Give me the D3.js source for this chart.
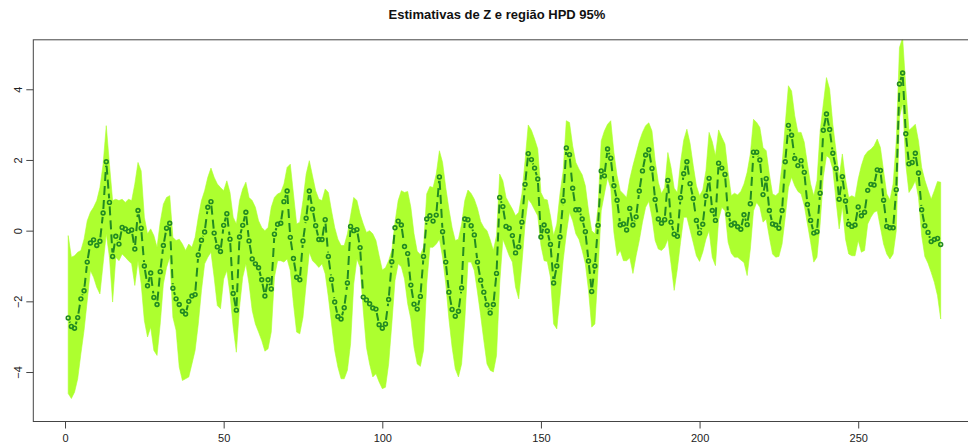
<!DOCTYPE html>
<html>
<head>
<meta charset="utf-8">
<script src="https://cdn.jsdelivr.net/npm/d3@7"></script>
<style>
  body { margin: 0; background: #fff; }
  svg { display: block; font-family: "Liberation Sans", Arial, sans-serif; }
</style>
</head>
<body>
<div id="chart"></div>
<script>
// Posterior estimates of Z (t = 1..276)
const zEst = [
  -2.47,-2.71,-2.76,-2.46,-1.93,-1.70,-0.89,-0.35,-0.26,-0.42,
  -0.30,0.50,1.95,0.80,-0.73,-0.16,-0.38,0.09,0.05,-0.02,
  0.02,-0.52,0.57,0.07,-1.00,-1.56,-1.20,-1.89,-2.09,-1.16,
  -0.42,0.07,0.21,-1.63,-1.93,-2.09,-2.28,-2.36,-2.00,-1.85,
  -1.81,-0.69,-0.27,-0.04,0.66,0.82,-0.07,-0.46,-0.59,0.15,
  0.48,-0.24,-1.78,-2.25,-0.18,0.15,0.52,-0.29,-0.80,-0.94,
  -1.05,-1.39,-1.85,-1.39,-1.65,-0.10,0.18,0.21,0.82,1.12,
  -0.19,-0.79,-1.32,-1.39,-0.29,0.35,1.12,0.61,0.14,-0.25,
  -0.25,0.31,-0.73,-1.38,-2.02,-2.43,-2.50,-2.18,-1.48,0.12,
  0.00,0.03,-0.48,-1.88,-1.96,-2.07,-2.19,-2.22,-2.66,-2.76,
  -2.64,-1.95,-0.88,0.08,0.27,0.16,-0.45,-0.65,-1.54,-2.08,
  -2.22,-1.86,-0.73,0.33,0.42,0.27,0.44,1.52,-0.03,-0.89,
  -1.74,-2.23,-2.42,-2.28,-1.62,0.33,0.31,0.14,-0.12,-0.89,
  -1.40,-1.74,-2.10,-2.33,-2.09,-1.21,0.94,0.68,0.12,0.07,
  -0.14,-0.63,-0.46,0.24,1.31,2.18,2.01,1.77,1.46,-0.18,
  0.16,-0.01,-0.39,-1.48,-1.00,-0.18,0.84,2.34,2.15,1.20,
  0.59,0.59,0.33,-0.03,-0.86,-1.72,-1.00,0.15,1.69,1.55,
  2.31,2.05,1.27,0.86,0.16,0.19,0.02,0.63,0.16,0.39,
  1.12,1.69,2.14,2.29,1.76,0.88,0.33,0.21,0.31,1.42,
  0.24,-0.10,-0.16,0.93,1.61,1.95,1.33,0.91,0.29,-0.07,
  0.18,0.98,1.48,0.57,0.29,1.91,1.77,1.59,0.46,0.16,
  0.21,0.11,0.04,0.45,0.17,0.76,2.22,2.22,2.00,1.02,
  1.47,0.57,0.19,0.16,0.07,0.57,1.95,2.98,2.70,2.04,
  1.84,1.98,1.65,0.74,0.29,-0.07,-0.03,1.06,2.84,3.30,
  2.86,2.19,1.76,0.89,1.53,0.84,0.18,0.12,0.16,0.67,
  0.42,0.52,1.14,1.31,1.29,1.72,1.70,0.86,0.12,0.08,
  0.08,1.16,4.15,4.46,2.74,1.89,1.93,2.19,1.63,0.59,
  0.14,-0.05,-0.31,-0.25,-0.22,-0.39
];

// Upper limit of the 95% HPD region
const hpdUpper = [
  -0.14,-0.75,-0.71,-0.61,-0.56,-0.24,0.28,0.52,0.66,0.85,
  1.22,1.88,2.97,1.88,0.85,0.89,0.85,0.89,0.80,0.89,
  0.85,1.32,1.93,1.69,0.38,-0.09,0.05,-0.14,-0.47,0.24,
  0.75,0.94,0.99,-0.19,-0.28,-0.24,-0.38,-0.56,-0.38,-0.47,
  -0.19,0.38,0.85,1.13,1.51,1.77,1.51,1.32,1.22,1.13,
  1.41,1.08,0.38,0.19,0.85,1.18,1.37,0.94,0.85,0.66,
  0.28,0.09,0.00,0.09,0.66,0.94,1.04,1.08,1.32,1.79,
  1.88,1.04,0.19,0.24,0.85,1.60,1.98,1.55,1.13,0.89,
  0.85,1.18,1.08,0.56,0.09,-0.24,-0.42,-0.42,-0.09,0.42,
  0.94,0.85,0.47,0.19,-0.05,0.00,-0.09,-0.28,-0.71,-1.11,
  -1.05,-0.85,-0.56,0.24,0.85,1.13,1.08,1.11,0.66,-0.09,
  -0.58,-0.68,-0.47,1.04,1.25,1.22,1.60,2.26,1.93,1.22,
  0.61,0.09,-0.28,-0.24,0.19,0.85,1.15,1.05,0.89,0.63,
  0.26,0.09,0.00,-0.26,-0.56,-0.14,1.60,1.41,0.94,0.77,
  0.61,0.42,0.52,1.04,1.98,2.99,2.84,2.59,2.31,1.08,
  0.89,0.87,0.42,-0.14,0.19,1.04,1.69,3.11,3.06,2.40,
  1.93,1.74,1.58,1.27,0.56,0.00,-0.09,0.66,2.54,2.82,
  3.01,3.11,2.21,1.55,1.13,1.04,0.94,1.46,1.84,2.18,
  2.52,2.78,2.97,3.05,2.82,1.98,1.37,1.05,1.22,2.21,
  1.79,1.20,1.08,1.93,2.56,2.87,2.47,1.84,1.27,0.99,
  1.15,1.69,2.78,2.52,2.12,2.85,2.64,2.45,1.65,0.99,
  1.06,1.01,1.11,1.32,1.65,2.17,3.15,3.06,2.92,2.35,
  2.26,1.60,1.04,0.99,1.08,1.88,3.01,4.10,3.95,3.25,
  2.78,2.78,2.50,1.88,1.32,0.99,1.41,2.82,3.58,4.33,
  4.00,3.01,2.26,1.51,2.17,1.46,0.94,0.99,0.94,1.46,
  1.84,2.12,2.24,2.30,2.40,2.59,2.35,1.69,1.04,0.87,
  1.32,2.54,5.18,5.46,4.05,2.84,2.92,3.01,2.54,1.79,
  1.43,1.15,0.89,1.13,1.39,1.37
];

// Lower limit of the 95% HPD region
const hpdLower = [
  -4.61,-4.75,-4.57,-4.19,-3.48,-2.82,-1.98,-1.13,-1.32,-1.60,
  -1.79,-0.94,-0.09,-0.75,-2.02,-0.75,-0.85,-0.66,-0.75,-0.85,
  -0.94,-1.55,-0.85,-1.51,-2.54,-3.01,-2.73,-3.39,-3.53,-2.64,
  -1.51,-1.04,-0.75,-2.45,-2.82,-3.86,-4.24,-4.19,-4.14,-3.77,
  -3.39,-2.64,-1.69,-0.94,-0.75,-0.61,-1.32,-2.12,-2.21,-1.37,
  -1.13,-1.79,-2.73,-3.44,-2.17,-1.32,-0.94,-1.51,-2.26,-2.64,
  -2.87,-3.11,-3.41,-3.34,-2.87,-1.32,-0.85,-0.85,-0.89,-0.80,
  -1.13,-2.07,-2.87,-2.92,-2.45,-1.51,-0.61,-0.85,-0.94,-1.04,
  -0.94,-1.22,-1.88,-2.64,-3.39,-3.86,-4.19,-4.19,-3.95,-3.20,
  -1.51,-0.80,-1.04,-2.26,-3.30,-3.77,-4.14,-4.05,-4.28,-4.47,
  -4.43,-3.77,-2.64,-1.41,-0.94,-1.02,-1.37,-2.07,-2.50,-3.30,
  -3.77,-3.84,-3.39,-1.51,-0.47,-0.47,-0.38,-0.24,-0.75,-1.51,
  -2.50,-3.30,-3.91,-4.14,-3.77,-2.54,-0.89,-0.89,-1.13,-1.74,
  -2.40,-3.11,-3.77,-3.95,-4.00,-3.53,-1.50,-0.24,-0.47,-0.71,
  -0.89,-1.60,-1.93,-0.94,0.19,0.89,0.77,0.59,0.42,-0.42,
  -0.85,-0.87,-1.32,-2.64,-2.78,-1.88,-0.85,-0.09,0.52,0.28,
  -0.09,-0.25,-0.56,-0.94,-1.69,-2.73,-2.64,-1.13,0.56,1.04,
  1.50,1.20,-0.05,-0.71,-0.56,-0.85,-0.85,-0.77,-1.21,-0.71,
  -0.28,0.24,0.66,0.83,0.38,-0.28,-0.52,-0.56,-0.47,-0.24,
  -0.94,-1.69,-1.08,-0.33,0.38,0.38,0.02,-0.34,-0.71,-0.87,
  -0.61,-0.24,0.00,-0.75,-0.99,0.30,0.66,0.56,-0.33,-0.64,
  -0.75,-0.75,-0.83,-0.90,-1.27,-0.52,0.56,0.80,0.66,0.24,
  0.33,-0.19,-0.66,-0.75,-0.73,-0.38,0.38,1.22,1.51,1.27,
  1.11,1.04,0.71,0.19,-0.33,-0.89,-0.75,0.19,1.51,2.12,
  2.05,1.74,0.85,0.05,0.70,-0.24,-0.66,-0.71,-0.71,-0.28,
  -0.61,-0.56,0.19,0.38,0.52,0.56,0.09,-0.38,-0.66,-0.80,
  -0.66,0.00,3.20,3.60,1.88,1.08,1.22,1.41,0.94,-0.14,
  -0.73,-0.92,-1.18,-1.46,-1.84,-2.50
];

const xTicks = [0, 50, 100, 150, 200, 250];
const yTicks = [-4, -2, 0, 2, 4];
const chartTitle = "Estimativas de Z e região HPD 95%";

const WIDTH = 968, HEIGHT = 448;
const BOX = { left: 33.3, top: 39.8, bottom: 421.5, right: 975.6 }; // right side runs off the picture
const BAND_COLOR = "#adff2f";
const LINE_COLOR = "#228b22";
const GAP = 4; // type="b": segments stop short of the points

const data = zEst.map((v, i) => ({ t: i + 1, z: v, lo: hpdLower[i], hi: hpdUpper[i] }));

const x = d3.scaleLinear().domain([-10, 287]).range([BOX.left, BOX.right]);
const y = d3.scaleLinear().domain([-5.4, 5.4]).range([BOX.bottom, BOX.top]);

const svg = d3.select("#chart").append("svg")
    .attr("width", WIDTH)
    .attr("height", HEIGHT);

svg.append("defs").append("clipPath")
    .attr("id", "plot-clip")
  .append("rect")
    .attr("x", BOX.left)
    .attr("y", BOX.top)
    .attr("width", BOX.right - BOX.left)
    .attr("height", BOX.bottom - BOX.top);

const plot = svg.append("g").attr("clip-path", "url(#plot-clip)");

// HPD band
const area = d3.area()
    .x(d => x(d.t))
    .y0(d => y(d.lo))
    .y1(d => y(d.hi));

plot.append("path")
    .datum(data)
    .attr("d", area)
    .attr("fill", BAND_COLOR)
    .attr("stroke", BAND_COLOR)
    .attr("stroke-width", 0.6);

// dashed line between points, with gaps round each point
const segs = [];
for (let i = 0; i < data.length - 1; i++) {
    const x1 = x(data[i].t), y1 = y(data[i].z);
    const x2 = x(data[i + 1].t), y2 = y(data[i + 1].z);
    const dx = x2 - x1, dy = y2 - y1;
    const len = Math.sqrt(dx * dx + dy * dy);
    if (len <= 2 * GAP) continue;
    const ux = dx / len, uy = dy / len;
    segs.push({ x1: x1 + ux * GAP, y1: y1 + uy * GAP, x2: x2 - ux * GAP, y2: y2 - uy * GAP });
}

plot.append("g")
    .selectAll("line")
    .data(segs)
    .join("line")
    .attr("x1", d => d.x1)
    .attr("y1", d => d.y1)
    .attr("x2", d => d.x2)
    .attr("y2", d => d.y2)
    .attr("stroke", LINE_COLOR)
    .attr("stroke-width", 2)
    .attr("stroke-dasharray", "9,5");

// hollow circle points
plot.append("g")
    .selectAll("circle")
    .data(data)
    .join("circle")
    .attr("cx", d => x(d.t))
    .attr("cy", d => y(d.z))
    .attr("r", 1.9)
    .attr("fill", "none")
    .attr("stroke", LINE_COLOR)
    .attr("stroke-width", 1.6);

// box
svg.append("rect")
    .attr("x", BOX.left)
    .attr("y", BOX.top)
    .attr("width", BOX.right - BOX.left)
    .attr("height", BOX.bottom - BOX.top)
    .attr("fill", "none")
    .attr("stroke", "#444")
    .attr("stroke-width", 1);

// axes
const xAxis = svg.append("g")
    .attr("transform", `translate(0,${BOX.bottom})`)
    .call(d3.axisBottom(x).tickValues(xTicks).tickSize(7).tickSizeOuter(0).tickPadding(6));
xAxis.select(".domain").remove();
xAxis.selectAll("line").attr("stroke", "#444");
xAxis.selectAll("text").attr("font-size", 11).attr("fill", "#222")
    .attr("font-family", "'Liberation Sans', Arial, sans-serif");

const yAxis = svg.append("g")
    .attr("transform", `translate(${BOX.left},0)`)
    .call(d3.axisLeft(y).tickValues(yTicks).tickSize(7).tickSizeOuter(0));
yAxis.select(".domain").remove();
yAxis.selectAll("line").attr("stroke", "#444");
yAxis.selectAll("text")
    .attr("font-size", 11)
    .attr("fill", "#222")
    .attr("font-family", "'Liberation Sans', Arial, sans-serif")
    .attr("text-anchor", "middle")
    .attr("x", null)
    .attr("dy", null)
    .attr("transform", "translate(-11,0) rotate(-90)");

// title
svg.append("text")
    .attr("x", 497)
    .attr("y", 19)
    .attr("text-anchor", "middle")
    .attr("font-size", 13)
    .attr("font-weight", "bold")
    .attr("fill", "#111")
    .text(chartTitle);
</script>
</body>
</html>
